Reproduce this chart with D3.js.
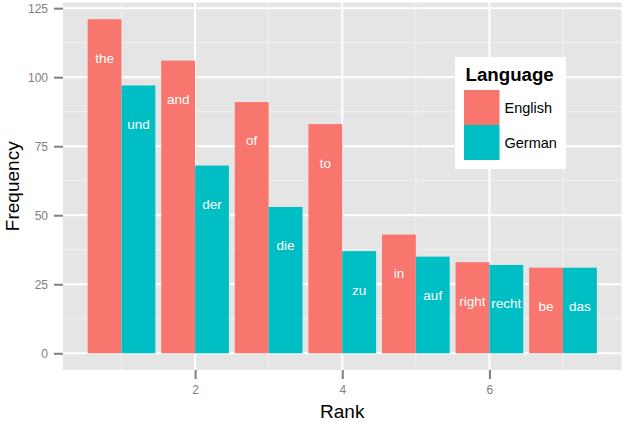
<!DOCTYPE html>
<html><head><meta charset="utf-8">
<script src="https://cdn.jsdelivr.net/npm/d3@7"></script>
<style>body{margin:0;background:#fff;} text{font-family:"Liberation Sans",Arial,sans-serif;}</style>
</head><body><svg id="c" width="625" height="422"></svg>
<script>
const ranks = [1,2,3,4,5,6,7];
const englishWords = ["the","and","of","to","in","right","be"];
const englishFreq = [121,106,91,83,43,33,31];
const germanWords = ["und","der","die","zu","auf","recht","das"];
const germanFreq = [97,68,53,37,35,32,31];
const languages = ["English","German"];
const colors = ["#F8766D","#00BFC4"];
const yTicks = [0,25,50,75,100,125];
const yMinor = [12.5,37.5,62.5,87.5,112.5];
const xTicks = [2,4,6];
const xMinor = [1,3,5,7];

const svg = d3.select("#c");
const L=63, R=621.5, T=2.5, B=370;
const x = d3.scaleLinear().domain([0.205,7.795]).range([L,R]);
const y = d3.scaleLinear().domain([-6.05,127.05]).range([B,T]);
const half = 0.46;

svg.append("rect").attr("x",L).attr("y",T).attr("width",R-L).attr("height",B-T).attr("fill","#E5E5E5");
const g = svg.append("g");
yMinor.forEach(v=>g.append("line").attr("x1",L).attr("x2",R).attr("y1",y(v)).attr("y2",y(v)).attr("stroke","#F2F2F2").attr("stroke-width",1));
xMinor.forEach(v=>g.append("line").attr("y1",T).attr("y2",B).attr("x1",x(v)).attr("x2",x(v)).attr("stroke","#F2F2F2").attr("stroke-width",1));
yTicks.forEach(v=>g.append("line").attr("x1",L).attr("x2",R).attr("y1",y(v)).attr("y2",y(v)).attr("stroke","#fff").attr("stroke-width",2));
xTicks.forEach(v=>g.append("line").attr("y1",T).attr("y2",B).attr("x1",x(v)).attr("x2",x(v)).attr("stroke","#fff").attr("stroke-width",2));

const data = [];
ranks.forEach((r,i)=>{
  data.push({r, lang:0, v:englishFreq[i], w:englishWords[i]});
  data.push({r, lang:1, v:germanFreq[i], w:germanWords[i]});
});
const bx = d=> d.lang===0 ? x(d.r-half) : x(d.r);
const bw = d=> x(d.r)-x(d.r-half);
svg.selectAll("rect.bar").data(data).enter().append("rect").attr("class","bar")
  .attr("x",bx).attr("width",bw).attr("y",d=>y(d.v)).attr("height",d=>y(0)-y(d.v))
  .attr("fill",d=>colors[d.lang]);
svg.selectAll("text.lab").data(data).enter().append("text").attr("class","lab")
  .attr("x",d=>bx(d)+bw(d)/2).attr("y",d=>y(d.v-14)).attr("dy","0.35em")
  .attr("text-anchor","middle").attr("fill","#fff").attr("font-size",13.5).text(d=>d.w);

// axes
const ya = svg.append("g").attr("transform",`translate(${L},0)`)
  .call(d3.axisLeft(y).tickValues(yTicks).tickSize(9).tickPadding(6));
const xa = svg.append("g").attr("transform",`translate(0,${B})`)
  .call(d3.axisBottom(x).tickValues(xTicks).tickSize(9).tickPadding(6));
[ya,xa].forEach(a=>{
  a.select(".domain").remove();
  a.selectAll(".tick line").attr("stroke","#7F7F7F").attr("stroke-width",2);
  a.selectAll(".tick text").attr("fill","#7F7F7F").attr("font-size",12).attr("font-family","Liberation Sans, Arial, sans-serif");
});

svg.append("text").attr("x",(L+R)/2).attr("y",417.5).attr("text-anchor","middle").attr("font-size",19).attr("fill","#000").text("Rank");
svg.append("text").attr("transform",`translate(18.5,${(T+B)/2}) rotate(-90)`).attr("text-anchor","middle").attr("font-size",19).attr("fill","#000").text("Frequency");

// legend
const lg = svg.append("g");
lg.append("rect").attr("x",455).attr("y",57).attr("width",111).attr("height",112).attr("fill","#fff");
lg.append("text").attr("x",465.5).attr("y",81).attr("font-size",18.7).attr("font-weight","bold").text("Language");
languages.forEach((l,i)=>{
  lg.append("rect").attr("x",464).attr("y",90+i*35).attr("width",35.5).attr("height",35).attr("fill",colors[i]);
  lg.append("text").attr("x",504.5).attr("y",107.5+i*35).attr("dy","0.35em").attr("font-size",14.5).attr("fill","#000").text(l);
});
</script></body></html>
